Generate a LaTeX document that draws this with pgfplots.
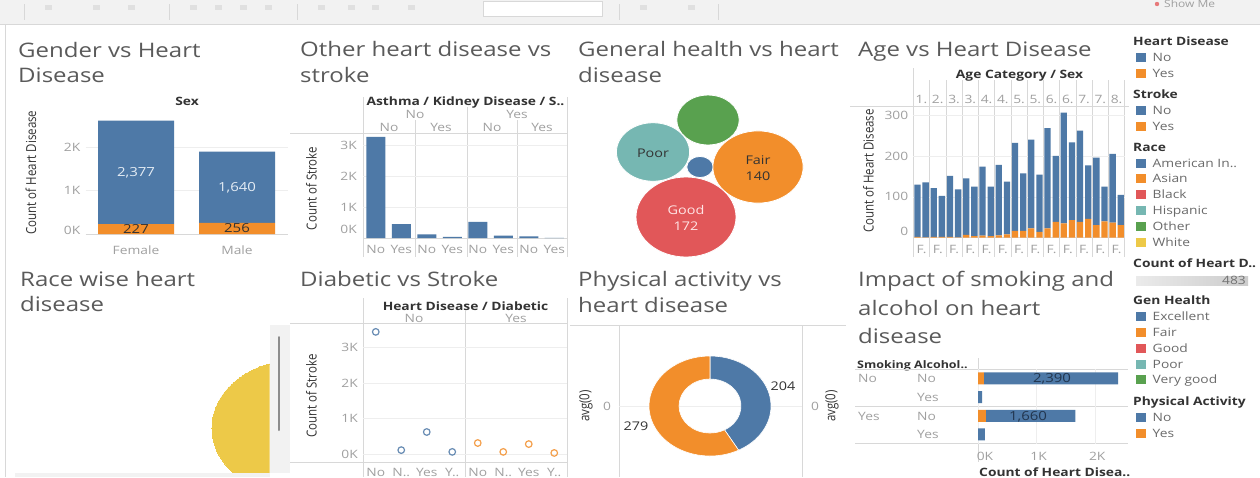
\documentclass[border=0pt]{standalone}
\usepackage{fontspec}
\setmainfont{Open Sans}[FakeStretch=1.2]
\newfontfamily\rotf{Open Sans}
\usepackage{graphicx}
\usepackage{pgfplots}
\usepackage{pgfplotstable}
\pgfplotsset{compat=1.18}
\usetikzlibrary{calc}

\definecolor{cBlue}{HTML}{4E79A7}
\definecolor{cOrange}{HTML}{F28E2B}
\definecolor{cRed}{HTML}{E15759}
\definecolor{cTeal}{HTML}{76B7B2}
\definecolor{cGreen}{HTML}{59A14F}
\definecolor{cYellow}{HTML}{EDC948}
\definecolor{cTitle}{HTML}{5A5A5A}
\definecolor{cTick}{HTML}{A0A0A0}
\definecolor{cHead}{HTML}{333333}
\definecolor{cGrid}{HTML}{EEEEEE}
\definecolor{cLine}{HTML}{D8D8D8}
\definecolor{cLeg}{HTML}{6A6A6A}
\definecolor{cBar}{HTML}{F2F2F2}
\definecolor{cLight}{HTML}{E4ECF4}
\definecolor{cNavy}{HTML}{22364F}

\newcommand\fs[1]{\fontsize{#1}{#1}\selectfont}

\tikzset{
  lab/.style={font=\fs{11.5}, inner sep=0pt, text height=8.3pt, text depth=0pt, text=cTick},
  hdr/.style={font=\fs{11.5}\bfseries, inner sep=0pt, text height=8.3pt, text depth=0pt, text=cHead},
  ttl/.style={font=\fs{20}, inner sep=0pt, anchor=base west, text=cTitle},
  sep/.style={draw=cLine, line width=0.6pt},
  rlab/.style={rotate=90, inner sep=0pt, text=cHead},
  val/.style={font=\fs{12.5}, inner sep=0pt, text height=9pt, text depth=0pt},
}
\newcommand\rl[1]{\scalebox{1}[1.2]{\rotf\fs{11.5}#1}}
\newcommand\lt[2]{\node[hdr, anchor=west] at (1133,#1) {#2};}
\newcommand\li[3]{\fill[#2] (1136,#1-4.5) rectangle (1145.5,#1+4.5);
  \node[lab, text=cLeg, anchor=west] at (1152.5,#1) {#3};}

\pgfplotsset{
  dash/.style={scale only axis, anchor=north west, axis line style={draw=none},
    major tick length=0pt, tick style={draw=none},
    ticklabel style={font=\fs{11.5}, text=cTick, inner sep=0pt, text height=8.3pt, text depth=0pt},
    grid style={draw=cGrid, line width=0.6pt}, clip=false},
}

% Age vs heart disease: 26 bars (13 age categories x sex)
\pgfplotstableread{
i yes no
0 2 128
1 1 134
2 2 119
3 2 100
4 2 149
5 1 117
6 7 138
7 4 121
8 5 169
9 4 121
10 6 172
11 8 129
12 17 215
13 17 140
14 23 217
15 14 140
16 23 245
17 39 161
18 35 271
19 43 190
20 39 223
21 46 131
22 31 165
23 40 85
24 37 168
25 31 74
}\agedata

\begin{document}
\begin{tikzpicture}[x=1pt,y=-1pt]
\path[use as bounding box] (0,0) rectangle (1260,477);
\clip (0,0) rectangle (1260,477);
\fill[white] (0,0) rectangle (1260,477);

% ---------- toolbar ----------
\fill[cBar] (0,0) rectangle (1260,24);
\draw[sep] (0,24.3) -- (1260,24.3);
\fill[white, draw=cLine] (483,1) rectangle (602,16);
\foreach \x in {24,169,297,619,718} \draw[sep] (\x,4) -- (\x,20);
\foreach \x in {45,93,128,190,215,240,265,318,348,372,408,640,688}
  \fill[black!12] (\x,5) rectangle (\x+7,10);
\fill[cRed!80] (1157,4) circle (2.2);
\node[lab, anchor=west, font=\fs{10}] at (1164,3) {Show Me};
\draw[sep] (5,24) -- (5,477);

% ---------- Gender vs Heart Disease ----------
\node[ttl] at (18,57) {Gender vs Heart};
\node[ttl] at (18,82) {Disease};
\node[hdr] at (187,101) {Sex};
\node[rlab] at (31,172.5) {\rl{Count of Heart Disease}};
\begin{axis}[dash, at={(85.5pt,-112.2pt)}, width=202pt, height=126.2pt,
  xmin=-0.5, xmax=1.5, ymin=-100, ymax=2800,
  ybar stacked, bar width=76pt,
  ymajorgrids, ytick={1000,2000}, yticklabels={1K,2K},
  extra y ticks={0}, extra y tick labels={0K},
  extra y tick style={grid=major, grid style={draw=cLine}, yticklabel style={yshift=4pt}},
  yticklabel style={anchor=east, xshift=-5pt},
  xtick={0,1}, xticklabels={Female,Male},
  xticklabel style={anchor=center, yshift=-11.6pt}]
\addplot[fill=cOrange, draw=none] coordinates {(0,227) (1,256)};
\addplot[fill=cBlue, draw=none] coordinates {(0,2377) (1,1640)};
\end{axis}
\node[val, text=cLight] at (136,172.4) {2,377};
\node[val, text=cLight] at (237,187) {1,640};
\node[val, text=cHead] at (136,229.1) {227};
\node[val, text=cHead] at (237,228.4) {256};

% ---------- Other heart disease vs stroke ----------
\node[ttl] at (300,56.5) {Other heart disease vs};
\node[ttl] at (300,82) {stroke};
\node[hdr] at (465.5,101) {Asthma / Kidney Disease / S..};
\node[lab] at (415,114.5) {No};
\node[lab] at (517,114.5) {Yes};
\foreach \x/\t in {389/No,441/Yes,492/No,542/Yes} \node[lab] at (\x,127) {\t};
\draw[sep] (290,133) -- (567,133);
\draw[sep] (363,97) -- (363,257);
\draw[sep] (567,97) -- (567,257);
\draw[sep] (467,107) -- (467,257);
\draw[sep] (415,120) -- (415,257);
\draw[sep] (517,120) -- (517,257);
\node[rlab] at (311.5,188.5) {\rl{Count of Stroke}};
\begin{axis}[dash, at={(363pt,-133pt)}, width=204pt, height=107pt,
  xmin=-0.5, xmax=7.5, ymin=-64.5, ymax=3387,
  ybar, bar width=19pt,
  ymajorgrids, ytick={1000,2000,3000}, yticklabels={1K,2K,3K},
  extra y ticks={0}, extra y tick labels={0K},
  extra y tick style={grid=major, grid style={draw=cLine}, yticklabel style={yshift=9pt}},
  yticklabel style={anchor=east, xshift=-6pt},
  xtick={0,1,2,3,4,5,6,7}, xticklabels={No,Yes,No,Yes,No,Yes,No,Yes},
  xticklabel style={anchor=center, yshift=-9pt}]
\addplot[fill=cBlue, draw=none] coordinates {(0,3260) (1,450) (2,120) (3,40) (4,520) (5,75) (6,50) (7,8)};
\end{axis}

% ---------- General health vs heart disease ----------
\node[ttl] at (578,56.5) {General health vs heart};
\node[ttl] at (578,82) {disease};
% bubble area proportional to count: Excellent 12, Fair 140, Good 172, Poor 92, Very good 67
\begin{axis}[at={(570pt,-90pt)}, anchor=north west, scale only axis, width=280pt, height=172pt,
  xmin=570, xmax=850, ymin=90, ymax=262, y dir=reverse, hide axis, clip=false]
\addplot[only marks, mark=*, mark size={3.05*sqrt(67)}, mark options={fill=cGreen, draw=white, line width=0.8pt, xscale=1.25}] coordinates {(708,120)};
\addplot[only marks, mark=*, mark size={3.05*sqrt(92)}, mark options={fill=cTeal, draw=white, line width=0.8pt, xscale=1.25}] coordinates {(653,152)};
\addplot[only marks, mark=*, mark size={3.05*sqrt(12)}, mark options={fill=cBlue, draw=white, line width=0.8pt, xscale=1.25}] coordinates {(700,167)};
\addplot[only marks, mark=*, mark size={3.05*sqrt(140)}, mark options={fill=cOrange, draw=white, line width=0.8pt, xscale=1.25}] coordinates {(758,167)};
\addplot[only marks, mark=*, mark size={3.05*sqrt(172)}, mark options={fill=cRed, draw=white, line width=0.8pt, xscale=1.25}] coordinates {(686,217)};
\end{axis}
\node[font=\fs{12}, text=cHead, inner sep=0pt] at (653,153) {Poor};
\node[font=\fs{12}, text=cHead, inner sep=0pt] at (758,160) {Fair};
\node[font=\fs{12}, text=cHead, inner sep=0pt] at (758,176) {140};
\node[font=\fs{12}, text=red!10, inner sep=0pt] at (686,210) {Good};
\node[font=\fs{12}, text=red!10, inner sep=0pt] at (686,226) {172};

% ---------- Age vs Heart Disease ----------
\node[ttl] at (858,56.5) {Age vs Heart Disease};
\node[hdr] at (1019.5,74.3) {Age Category / Sex};
\foreach \t [count=\j from 0] in {1.,2.,3.,3.,4.,4.,5.,5.,6.,6.,7.,7.,8.}
  \node[lab] at (921.5+16.26*\j,99) {\t};
\foreach \j in {0,1,2,3,4,5,6,7,8,9,10,11,12}
  \node[lab] at (921.5+16.26*\j,249) {F.};
\draw[sep] (850,106) -- (1129,106);
\draw[sep] (913.4,68) -- (913.4,257);
\foreach \j in {1,2,3,4,5,6,7,8,9,10,11,12,13}
  \draw[sep] (913.4+16.26*\j,80) -- (913.4+16.26*\j,257);
\node[rlab] at (868.5,171) {\rl{Count of Heart Disease}};
\begin{axis}[dash, at={(913.4pt,-106pt)}, width=211.4pt, height=134pt,
  xmin=-0.5, xmax=25.5, ymin=-5.6, ymax=322,
  ybar stacked, bar width=6.3pt,
  ymajorgrids, ytick={100,200,300}, yticklabels={100,200,300},
  extra y ticks={0}, extra y tick labels={0},
  extra y tick style={grid=major, grid style={draw=cLine}, yticklabel style={yshift=6pt}},
  yticklabel style={anchor=east, xshift=-5pt},
  xtick=\empty]
\addplot[fill=cOrange, draw=none] table[x=i, y=yes] {\agedata};
\addplot[fill=cBlue, draw=none] table[x=i, y=no] {\agedata};
\end{axis}

% ---------- Legend ----------
\lt{41}{Heart Disease}
\li{57}{cBlue}{No}
\li{73}{cOrange}{Yes}
\lt{94}{Stroke}
\li{110}{cBlue}{No}
\li{126}{cOrange}{Yes}
\lt{147}{Race}
\li{163}{cBlue}{American In..}
\li{178.5}{cOrange}{Asian}
\li{194}{cRed}{Black}
\li{210}{cTeal}{Hispanic}
\li{226}{cGreen}{Other}
\li{242}{cYellow}{White}
\lt{263}{Count of Heart D..}
\shade[left color=black!8, right color=black!20] (1136,276) rectangle (1248,285.5);
\node[lab, text=black!55, anchor=east] at (1246,280.8) {483};
\lt{300}{Gen Health}
\li{316}{cBlue}{Excellent}
\li{332}{cOrange}{Fair}
\li{348}{cRed}{Good}
\li{364}{cTeal}{Poor}
\li{379.5}{cGreen}{Very good}
\lt{401}{Physical Activity}
\li{417}{cBlue}{No}
\li{433}{cOrange}{Yes}

% ---------- Race wise heart disease ----------
\node[ttl] at (20,286) {Race wise heart};
\node[ttl] at (20,311.7) {disease};
\begin{scope}
\clip (15,325) rectangle (269.5,472.5);
\begin{axis}[at={(15pt,-325pt)}, anchor=north west, scale only axis, width=300pt, height=147pt,
  xmin=15, xmax=315, ymin=325, ymax=472, y dir=reverse, hide axis, clip=false]
\addplot[only marks, color=cYellow, mark=*, mark size=67.7pt, mark options={fill=cYellow, draw=cYellow, line width=0pt, xscale=1.25}] coordinates {(296.6,428)};
\end{axis}
\end{scope}
\fill[cBar] (269.5,325) rectangle (290,472.5);
\draw[line width=2pt, draw=black!45, line cap=round] (279,337) -- (279,430);
\fill[cBar] (15,472.5) rectangle (269.5,477);

% ---------- Diabetic vs Stroke ----------
\node[ttl] at (300,286) {Diabetic vs Stroke};
\node[hdr] at (465.5,306) {Heart Disease / Diabetic};
\node[lab] at (414,318) {No};
\node[lab] at (516,318) {Yes};
\draw[sep] (290,323) -- (567,323);
\draw[sep] (290,462) -- (567,462);
\draw[sep] (363,298) -- (363,477);
\draw[sep] (465,310) -- (465,477);
\draw[sep] (567,298) -- (567,477);
\node[rlab] at (311.5,396) {\rl{Count of Stroke}};
\begin{axis}[dash, at={(363pt,-323pt)}, width=204pt, height=139pt,
  xmin=-0.5, xmax=7.5, ymin=-225, ymax=3690,
  ymajorgrids, ytick={1000,2000,3000}, yticklabels={1K,2K,3K},
  extra y ticks={0}, extra y tick labels={0K},
  extra y tick style={grid=major},
  yticklabel style={anchor=east, xshift=-5pt},
  xtick={0,1,2,3,4,5,6,7}, xticklabels={No,N..,Yes,Y..,No,N..,Yes,Y..},
  xticklabel style={anchor=center, yshift=-10pt}]
\addplot[only marks, mark=o, mark size=3.3pt, draw=cBlue!85, line width=1.2pt] coordinates {(0,3440) (1,110) (2,620) (3,60)};
\addplot[only marks, mark=o, mark size=3.3pt, draw=cOrange!85, line width=1.2pt] coordinates {(4,310) (5,60) (6,280) (7,30)};
\end{axis}

% ---------- Physical activity vs heart disease ----------
\node[ttl] at (578,286.5) {Physical activity vs};
\node[ttl] at (578,312.5) {heart disease};
\draw[sep] (570,325) -- (846,325);
\draw[sep] (619,325) -- (619,477);
\draw[sep] (802,325) -- (802,477);
\node[rlab] at (586,406) {\rl{avg(0)}};
\node[lab] at (607,406) {0};
\node[lab] at (815,406) {0};
\node[rlab] at (832,406) {\rl{avg(0)}};
\pgfmathsetmacro\pano{204}
\pgfmathsetmacro\payes{279}
\pgfmathsetmacro\ea{90-360*(\pano/(\pano+\payes))}
\begin{axis}[at={(619pt,-325pt)}, anchor=north west, scale only axis, width=183pt, height=152pt,
  xmin=619, xmax=802, ymin=325, ymax=477, y dir=reverse, hide axis, clip=false]
\addplot[draw=cGrid, line width=0.6pt] coordinates {(619,406) (802,406)};
\fill[cBlue, draw=white, line width=0.6pt] (axis cs:710,406) ++(90:61pt and 50pt)
  arc[start angle=90, end angle=\ea, x radius=61pt, y radius=50pt]
  -- ($(axis cs:710,406)+(\ea:31pt and 27pt)$)
  arc[start angle=\ea, end angle=90, x radius=31pt, y radius=27pt] -- cycle;
\fill[cOrange, draw=white, line width=0.6pt] (axis cs:710,406) ++(\ea:61pt and 50pt)
  arc[start angle=\ea, end angle=-270, x radius=61pt, y radius=50pt]
  -- ($(axis cs:710,406)+(-270:31pt and 27pt)$)
  arc[start angle=-270, end angle=\ea, x radius=31pt, y radius=27pt] -- cycle;
\end{axis}
\node[font=\fs{12}, text=cHead, inner sep=0pt] at (783,386) {204};
\node[font=\fs{12}, text=cHead, inner sep=0pt] at (636,426) {279};

% ---------- Impact of smoking and alcohol ----------
\node[ttl] at (858,286.5) {Impact of smoking and};
\node[ttl] at (858,315.5) {alcohol on heart};
\node[ttl] at (858,343) {disease};
\node[hdr, anchor=west, font=\fs{10.4}\bfseries] at (857,364) {Smoking};
\node[hdr, anchor=west, font=\fs{10.4}\bfseries] at (914,364) {Alcohol..};
\node[lab, anchor=west] at (858,378) {No};
\node[lab, anchor=west] at (917,378) {No};
\node[lab, anchor=west] at (917,397.5) {Yes};
\node[lab, anchor=west] at (858,416) {Yes};
\node[lab, anchor=west] at (917,416) {No};
\node[lab, anchor=west] at (917,434.5) {Yes};
\draw[sep] (855,369) -- (1128,369);
\draw[sep] (855,406) -- (1128,406);
\draw[sep] (855,443) -- (1128,443);
\draw[sep] (978,358) -- (978,462);
\begin{axis}[dash, at={(978pt,-369pt)}, width=149pt, height=74.8pt,
  xmin=0, xmax=2543, ymin=-0.5, ymax=3.5, y dir=reverse,
  xbar stacked, bar width=12pt,
  xmajorgrids, xtick={1000,2000}, xticklabels={1K,2K},
  extra x ticks={0}, extra x tick labels={0K},
  extra x tick style={xticklabel style={xshift=5pt}},
  xticklabel style={anchor=center, yshift=-13pt, xshift=2pt},
  ytick=\empty]
\addplot[fill=cOrange, draw=none] coordinates {(100,0) (0,1) (135,2) (0,3)};
\addplot[fill=cBlue, draw=none] coordinates {(2290,0) (70,1) (1525,2) (115,3)};
\end{axis}
\node[val, text=cNavy] at (1052,378.4) {2,390};
\node[val, text=cNavy] at (1028,415.7) {1,660};
\node[hdr, anchor=base west] at (979,476) {Count of Heart Disea..};
\end{tikzpicture}
\end{document}
